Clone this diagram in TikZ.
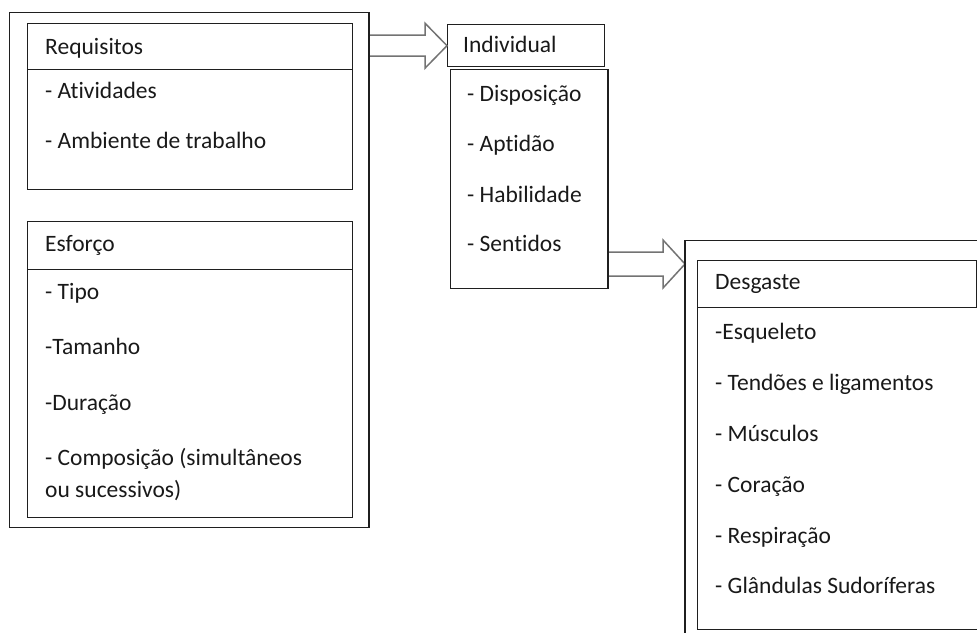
\documentclass[tikz,border=0pt]{standalone}
\usepackage{fontspec}
\setmainfont{Carlito}[Ligatures=NoCommon]
\usetikzlibrary{calc}
\begin{document}
\begin{tikzpicture}[x=1pt,y=-1pt,
  box/.style={draw=black!88, line width=1.4pt, rectangle, inner sep=0pt, anchor=north west},
  item/.style={anchor=base west, inner sep=0pt, font=\fontsize{23.5}{32}\selectfont, text=black!90},
  blockarrow/.style={draw=black!55, line width=1.5pt, fill=white, line join=miter}
]
\useasboundingbox (0,0) rectangle (977,632);
\begin{scope}
\clip (0,0) rectangle (977,632);

% frames (placed first so the arrows can refer to them)
\node[box, minimum width=359pt, minimum height=515pt] (outerL) at (9,12) {};
\node[box, minimum width=157pt, minimum height=42pt] (indHead) at (447,24) {};
\node[box, minimum width=157pt, minimum height=219pt] (indBody) at (450,69) {};
\node[box, minimum width=400pt, minimum height=500pt] (dOuter) at (685,240) {};

% block arrows
\coordinate (a1tail) at (outerL.east |- indHead.west);
\draw[blockarrow] ($(a1tail)+(0,-10.5)$) -- ($(indHead.west)+(-22,-10.5)$)
  -- ($(indHead.west)+(-22,-22.5)$) -- (indHead.west)
  -- ($(indHead.west)+(-22,22.5)$) -- ($(indHead.west)+(-22,10.5)$)
  -- ($(a1tail)+(0,10.5)$);

\coordinate (a2tip) at ($(dOuter.north west)+(0,24)$);
\coordinate (a2tail) at (indBody.east |- a2tip);
\draw[blockarrow] ($(a2tail)+(0,-12)$) -- ($(a2tip)+(-22,-12)$)
  -- ($(a2tip)+(-22,-24)$) -- (a2tip)
  -- ($(a2tip)+(-22,24)$) -- ($(a2tip)+(-22,12)$)
  -- ($(a2tail)+(0,12)$);

% redraw frame edges over the arrow tails
\draw[black!88, line width=1.4pt] (outerL.north east) -- (outerL.south east);
\draw[black!88, line width=1.4pt] (indBody.north east) -- (indBody.south east);
\draw[black!88, line width=1.4pt] (dOuter.north west) -- (dOuter.south west);

% left column
\node[box, minimum width=325pt, minimum height=46pt] (reqHead) at (27,23) {};
\node[box, minimum width=325pt, minimum height=120pt] (reqBody) at (27,69) {};
\node[box, minimum width=325pt, minimum height=48pt] (esfHead) at (27,221) {};
\node[box, minimum width=325pt, minimum height=248pt] (esfBody) at (27,269) {};

\node[item] (t1) at (45,54) {Requisitos};
\node[item] (t2) at (45,98) {- Atividades};
\node[item] (t3) at (45,148) {- Ambiente de trabalho};
\node[item] (t4) at (45,251) {Esforço};
\node[item] (t5) at (45,299) {- Tipo};
\node[item] (t6) at (45,354) {-Tamanho};
\node[item] (t7) at (45,410) {-Duração};
\node[item] (t8) at (45,465) {- Composição (simultâneos};
\node[item] (t9) at (45,497) {ou sucessivos)};

% middle column
\node[item] (i0) at (463,52) {Individual};
\node[item] (i1) at (467,101) {- Disposição};
\node[item] (i2) at (467,151) {- Aptidão};
\node[item] (i3) at (467,202) {- Habilidade};
\node[item] (i4) at (467,251) {- Sentidos};

% right column
\node[box, minimum width=279pt, minimum height=47pt] (desHead) at (697,260) {};
\node[box, minimum width=280pt, minimum height=322pt] (desBody) at (697,307) {};

\node[item] (d0) at (715,289) {Desgaste};
\node[item] (d1) at (715,339) {-Esqueleto};
\node[item] (d2) at (715,390) {- Tendões e ligamentos};
\node[item] (d3) at (715,441) {- Músculos};
\node[item] (d4) at (715,492) {- Coração};
\node[item] (d5) at (715,543) {- Respiração};
\node[item] (d6) at (715,593) {- Glândulas Sudoríferas};
\end{scope}
\end{tikzpicture}
\end{document}
